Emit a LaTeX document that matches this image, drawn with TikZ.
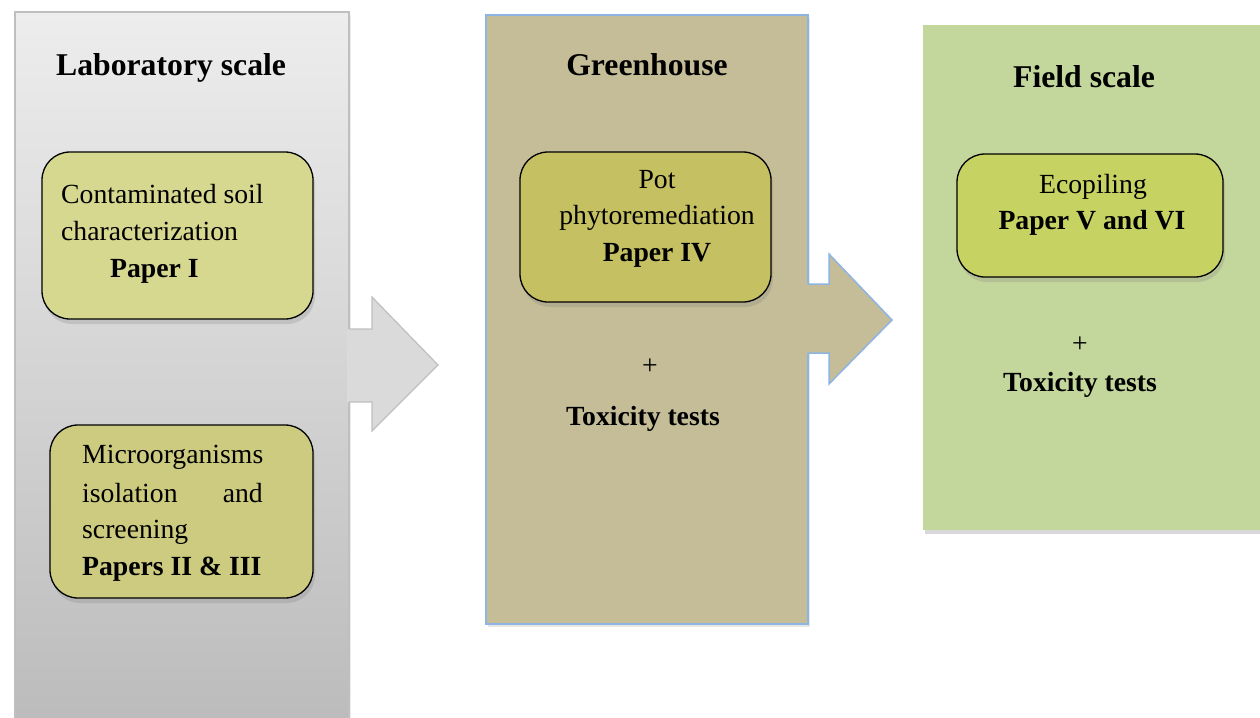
\documentclass[tikz,border=0pt]{standalone}
\usepackage{fontspec}
\setmainfont{Liberation Serif}
\usetikzlibrary{shadows}
\definecolor{labtop}{HTML}{EDEDED}
\definecolor{labbot}{HTML}{BBBBBB}
\definecolor{labedge}{HTML}{BFBFBF}
\definecolor{greenh}{HTML}{C4BD97}
\definecolor{blueedge}{HTML}{8EB4E3}
\definecolor{fieldc}{HTML}{C3D69B}
\definecolor{boxA}{HTML}{D7D88F}
\definecolor{boxB}{HTML}{CCCB80}
\definecolor{boxC}{HTML}{C5C062}
\definecolor{boxD}{HTML}{C6D262}
\definecolor{arrowgray}{HTML}{DADADA}
\begin{document}
\begin{tikzpicture}[x=1pt,y=-1pt,
  paperbox/.style={draw=black, line width=1.3pt, rounded corners=28pt,
    drop shadow={opacity=0.25, shadow xshift=2pt, shadow yshift=-5pt}},
  txt/.style={inner sep=0pt, font=\fontsize{27.7}{37}\selectfont},
  ttl/.style={inner sep=0pt, font=\fontsize{31.7}{38}\selectfont\bfseries},
]
\useasboundingbox (0,0) rectangle (1260,717);
\clip (0,0) rectangle (1260,717);
% panels
\path[draw=labedge, line width=1.2pt, top color=labtop, bottom color=labbot,
  drop shadow={opacity=0.15, shadow xshift=2pt, shadow yshift=-3pt}] (15,12) rectangle (349,730);
\fill[arrowgray] (347,329) -- (372,329) -- (372,297) -- (438,365) -- (372,431) -- (372,402) -- (347,402) -- cycle;
\draw[labedge, line width=1.2pt, line join=miter] (349,329) -- (372,329) -- (372,297) -- (438,365) -- (372,431) -- (372,402) -- (349,402);

\path[fill=greenh, draw=blueedge, line width=1.5pt,
  drop shadow={opacity=0.2, shadow xshift=2pt, shadow yshift=-3pt}] (486,15) rectangle (808,624);
\fill[greenh] (806,284) -- (829,284) -- (829,254) -- (892,320) -- (829,384) -- (829,353) -- (806,353) -- cycle;
\draw[blueedge, line width=1.5pt, line join=miter] (808,284) -- (829,284) -- (829,254) -- (892,320) -- (829,384) -- (829,353) -- (808,353);

\path[fill=fieldc,
  drop shadow={opacity=0.3, shadow xshift=2pt, shadow yshift=-4pt}] (923,25) rectangle (1290,530);

% boxes
\node[paperbox, fill=boxA, minimum width=271pt, minimum height=167pt] (box1) at (177.5,235.5) {};
\node[paperbox, fill=boxB, minimum width=263pt, minimum height=173pt] (box2) at (181.5,511.5) {};
\node[paperbox, fill=boxC, minimum width=251pt, minimum height=150pt] (box3) at (645.5,227) {};
\node[paperbox, fill=boxD, minimum width=266pt, minimum height=123pt] (box4) at (1090,215.5) {};

% titles
\node[ttl, anchor=base west] (labttl) at (56,75) {Laboratory scale};
\node[ttl, anchor=base] (greenttl) at (647,75.5) {Greenhouse};
\node[ttl, anchor=base] (fieldttl) at (1084,87) {Field scale};

% box 1
\node[txt, anchor=base west] (b1a) at (61,203) {Contaminated soil};
\node[txt, anchor=base west] (b1b) at (61,240) {characterization};
\node[txt, anchor=base west] (b1c) at (110,277) {\bfseries Paper I};
% box 2
\node[txt, anchor=base west] (b2a) at (82,463) {Microorganisms};
\node[txt, anchor=base west] (b2b) at (82,502) {isolation};
\node[txt, anchor=base east] (b2c) at (263,502) {and};
\node[txt, anchor=base west] (b2d) at (82,538) {screening};
\node[txt, anchor=base west] (b2e) at (82,575) {\bfseries Papers II \& III};
% box 3
\node[txt, anchor=base] (b3a) at (657,188) {Pot};
\node[txt, anchor=base] (b3b) at (657,224) {phytoremediation};
\node[txt, anchor=base] (b3c) at (657,261) {\bfseries Paper IV};
\node[txt, anchor=base] (gplus) at (650,374) {+};
\node[txt, anchor=base] (gtox) at (643,425) {\bfseries Toxicity tests};
% box 4
\node[txt, anchor=base] (b4a) at (1093,193) {Ecopiling};
\node[txt, anchor=base] (b4b) at (1092,229) {\bfseries Paper V and VI};
\node[txt, anchor=base] (fplus) at (1080,352) {+};
\node[txt, anchor=base] (ftox) at (1080,391) {\bfseries Toxicity tests};
\end{tikzpicture}
\end{document}
